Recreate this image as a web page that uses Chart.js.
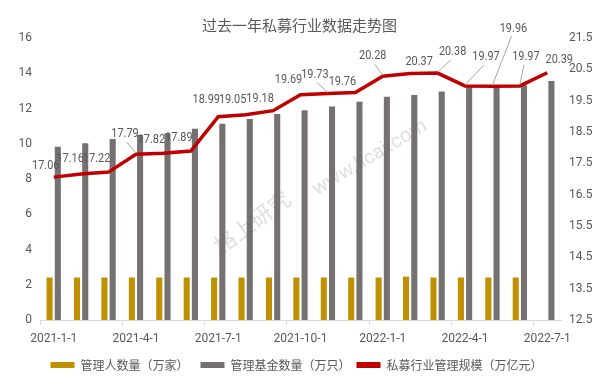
<!DOCTYPE html>
<html>
<head>
<meta charset="utf-8">
<script src="https://cdn.jsdelivr.net/npm/chart.js@4.4.1/dist/chart.umd.min.js"></script>
<style>
  html, body { margin: 0; padding: 0; background: #fff; }
  #wrap { width: 599px; height: 386px; }
</style>
</head>
<body>
<div id="wrap"><canvas id="chart"></canvas></div>
<script>
// 数据
const months = [
  "2021-1-1", "2021-2-1", "2021-3-1", "2021-4-1", "2021-5-1", "2021-6-1",
  "2021-7-1", "2021-8-1", "2021-9-1", "2021-10-1", "2021-11-1", "2021-12-1",
  "2022-1-1", "2022-2-1", "2022-3-1", "2022-4-1", "2022-5-1", "2022-6-1", "2022-7-1"
];
const managers = [2.41, 2.41, 2.41, 2.41, 2.41, 2.41, 2.41, 2.41, 2.41, 2.41, 2.41, 2.41,
  2.41, 2.46, 2.41, 2.41, 2.41, 2.41, null];
const funds = [9.83, 10.03, 10.27, 10.5, 10.6, 10.85, 11.14, 11.4, 11.69, 11.9, 12.12, 12.38,
  12.67, 12.76, 12.96, 13.2, 13.24, 13.32, 13.56];
const aum = [17.06, 17.16, 17.22, 17.79, 17.82, 17.89, 18.99, 19.05, 19.18, 19.69, 19.73, 19.76,
  20.28, 20.37, 20.38, 19.97, 19.96, 19.97, 20.39];

// 标签相对数据点的偏移（像素），leader = 是否画引导线
const labelPos = [
  {dx: -8, dy: -11}, {dx: -11, dy: -15}, {dx: -12, dy: -13}, {dx: -11, dy: -20, leader: true},
  {dx: -12, dy: -14}, {dx: -12, dy: -13}, {dx: -12, dy: -17}, {dx: -13, dy: -15},
  {dx: -13, dy: -12}, {dx: -12, dy: -15}, {dx: -13, dy: -19, leader: true}, {dx: -13, dy: -11},
  {dx: -10, dy: -20, leader: true}, {dx: 9, dy: -12}, {dx: 15, dy: -21, leader: true},
  {dx: 21, dy: -29, leader: true}, {dx: 21, dy: -58, leader: true}, {dx: 6, dy: -29, leader: true},
  {dx: 12, dy: -13}
];

const numFont = "Roboto, sans-serif";
const cjkFont = "'Noto Sans CJK SC', sans-serif";
const textColor = "#595959";

// 折线数据标签（横向压窄一点，接近原图的窄字体）
const lineLabels = {
  id: "lineLabels",
  afterDatasetsDraw(chart) {
    const meta = chart.getDatasetMeta(2);
    const ctx = chart.ctx;
    meta.data.forEach((pt, i) => {
      const p = labelPos[i];
      const lx = pt.x + p.dx, ly = pt.y + p.dy;
      ctx.save();
      if (p.leader) {
        ctx.strokeStyle = "#a6a6a6";
        ctx.lineWidth = 1;
        ctx.beginPath();
        ctx.moveTo(pt.x, pt.y - 1);
        ctx.lineTo(lx + (p.dx < 0 ? 2 : -2), ly + 8);
        ctx.stroke();
      }
      ctx.translate(lx, ly);
      ctx.scale(0.84, 1);
      ctx.font = "13px " + numFont;
      ctx.fillStyle = textColor;
      ctx.textAlign = "center";
      ctx.textBaseline = "middle";
      ctx.fillText(aum[i].toFixed(2), 0, 0);
      ctx.restore();
    });
  }
};

// 水印
const watermark = {
  id: "watermark",
  beforeDatasetsDraw(chart) {
    const ctx = chart.ctx;
    ctx.save();
    ctx.fillStyle = "rgba(185,185,185,0.45)";
    ctx.translate(252, 222);
    ctx.rotate(-36 * Math.PI / 180);
    ctx.font = "22px " + cjkFont;
    ctx.textAlign = "center";
    ctx.textBaseline = "middle";
    ctx.fillText("格上研究", 0, 0);
    ctx.restore();
    ctx.save();
    ctx.fillStyle = "rgba(185,185,185,0.45)";
    ctx.translate(370, 158);
    ctx.rotate(-31 * Math.PI / 180);
    ctx.font = "20px " + numFont;
    ctx.textAlign = "center";
    ctx.textBaseline = "middle";
    ctx.fillText("www.licai.com", 0, 0);
    ctx.restore();
  }
};

new Chart(document.getElementById("chart"), {
  type: "bar",
  data: {
    labels: months,
    datasets: [
      {
        label: "管理人数量（万家）",
        data: managers,
        backgroundColor: "#BF9000",
        yAxisID: "y",
        order: 1,
        categoryPercentage: 0.6,
        barPercentage: 0.74
      },
      {
        label: "管理基金数量（万只）",
        data: funds,
        backgroundColor: "#767171",
        yAxisID: "y",
        order: 1,
        categoryPercentage: 0.6,
        barPercentage: 0.74
      },
      {
        type: "line",
        label: "私募行业管理规模（万亿元）",
        data: aum,
        borderColor: "#C00000",
        backgroundColor: "#C00000",
        borderWidth: 3.5,
        pointRadius: 0,
        tension: 0,
        yAxisID: "y1",
        order: 0
      }
    ]
  },
  options: {
    responsive: true,
    maintainAspectRatio: false,
    animation: false,
    layout: { padding: { left: 0, right: 0, top: 0, bottom: 5 } },
    plugins: {
      title: {
        display: true,
        text: "过去一年私募行业数据走势图",
        color: textColor,
        font: { family: cjkFont, size: 15, weight: "normal" },
        padding: { top: 16, bottom: 4 }
      },
      legend: {
        position: "bottom",
        labels: {
          boxWidth: 24,
          boxHeight: 6,
          padding: 6,
          color: textColor,
          font: { family: cjkFont, size: 12 },
          sort: (a, b) => a.datasetIndex - b.datasetIndex,
          // 前两项后面补一个全角空格，拉开图例间距
          generateLabels(chart) {
            const items = Chart.defaults.plugins.legend.labels.generateLabels(chart);
            return items.map((l, i) => Object.assign(l, {
              lineWidth: 0,
              text: i < items.length - 1 ? l.text + "\u3000" : l.text
            }));
          }
        }
      },
      tooltip: { enabled: false }
    },
    scales: {
      x: {
        offset: true,
        grid: {
          offset: true,
          drawOnChartArea: false,
          tickLength: 5,
          color: ctx => (ctx.index % 3 === 0 ? "#d9d9d9" : "rgba(0,0,0,0)")
        },
        border: { color: "#d9d9d9" },
        ticks: {
          autoSkip: false,
          maxRotation: 0,
          padding: 7,
          color: textColor,
          font: { family: numFont, size: 12 },
          callback: function (v, i) { return i % 3 === 0 ? this.getLabelForValue(v) : ""; }
        },
        afterFit(scale) { scale.height = 33; }
      },
      y: {
        position: "left",
        min: 0,
        max: 16,
        grid: { display: false, drawTicks: false },
        border: { display: false },
        ticks: { stepSize: 2, padding: 8, color: textColor, font: { family: numFont, size: 12 } },
        afterFit(scale) { scale.width = 40; }
      },
      y1: {
        position: "right",
        min: 12.5,
        max: 21.5,
        grid: { display: false, drawTicks: false },
        border: { display: false },
        ticks: { stepSize: 1, padding: 8, color: textColor, font: { family: numFont, size: 12 } },
        afterFit(scale) { scale.width = 38; }
      }
    }
  },
  plugins: [watermark, lineLabels]
});
</script>
</body>
</html>
